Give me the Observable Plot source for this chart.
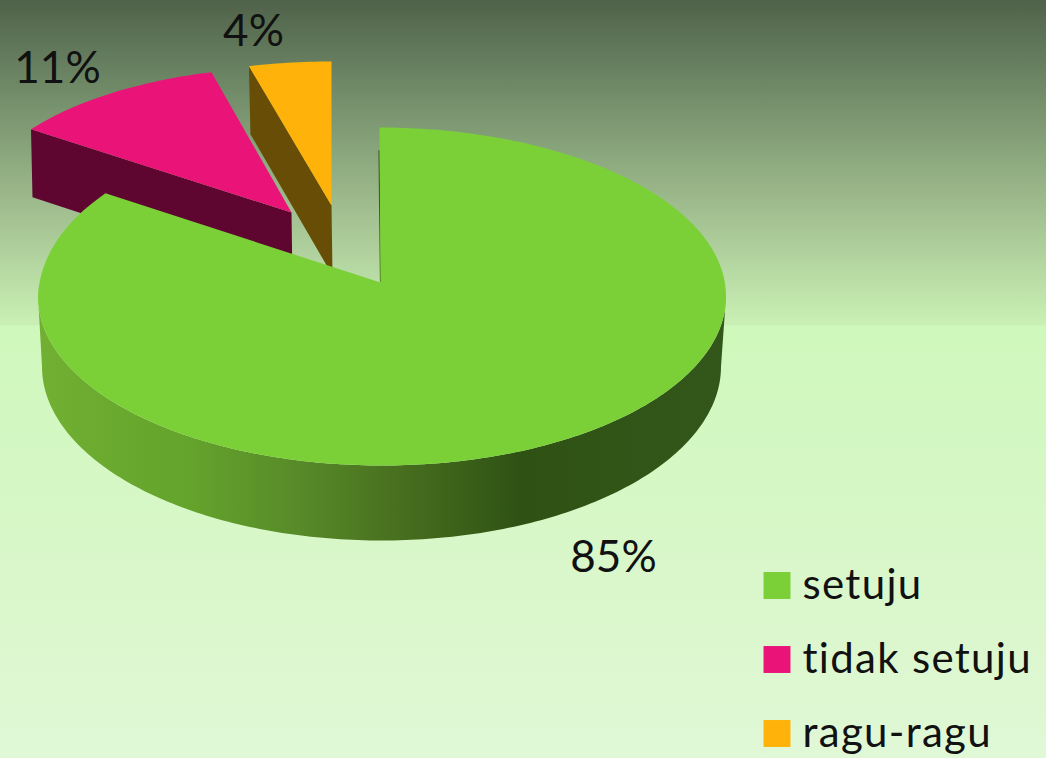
<!DOCTYPE html>
<html>
<head>
<meta charset="utf-8">
<script src="https://cdn.jsdelivr.net/npm/d3@7"></script>
<script src="https://cdn.jsdelivr.net/npm/@observablehq/plot@0.6"></script>
<style>html,body{margin:0;padding:0;background:#dff8d3;overflow:hidden}</style>
</head>
<body>
<div id="chart"></div>
<script>
const categories = ["setuju", "tidak setuju", "ragu-ragu"];
const values = [85, 11, 4];
const valueLabels = ["85%", "11%", "4%"];
const topColors = ["#7bd038", "#ea1479", "#ffb30a"];
const wallColors = ["#2f5214", "#5e0530", "#674d05"];

// Drawing geometry (layout only, not data)
const W = 1046, H = 758, FONT = "Lato, 'Open Sans', sans-serif";
const apex = {x: 380, y: 282};
const depth = 68;
const sliceLayout = [
  {apex, cx: 381.5, cy: 296, rx: 344, ry: 169, lean: true},
  {apex: {x: 291, y: 212}, cx: 291, cy: 217, rx: 322, ry: 150},
  {apex: {x: 331, y: 205}, cx: 331, cy: 211, rx: 332, ry: 150}
];
const bottomEllipse = {cx: 381, cy: 366, rx: 339.5, ry: 174};
const labelLayout = [{x: 613, y: 557}, {x: 57, y: 68}, {x: 253, y: 31}];
const legendLayout = {x: 776.5, textX: 802, y: [585, 659, 733]};

const total = d3.sum(values);
const cum = d3.cumsum(values);
const frac = i => [(i ? cum[i - 1] : 0) / total, cum[i] / total];
const arc = (e, t0, t1) => {
  const n = Math.max(2, Math.ceil((t1 - t0) * 360));
  return d3.range(n + 1).map(k => {
    const a = (t0 + (t1 - t0) * k / n) * 2 * Math.PI;
    const s = Math.sin(a), c = Math.cos(a);
    // Slight perspective lean on the far-left part of the main slice
    const dy = e.lean && s < 0 && c > 0 ? -10 * s * s * c : 0;
    const dx = e.lean && c > 0 ? (s < 0 ? 6 * s * s * c : 0) - 2.5 * c * c * c : 0;
    return {x: e.cx + e.rx * s + dx, y: e.cy - e.ry * c + dy};
  });
};

// Top face of each slice
const facePoints = i => {
  const [t0, t1] = frac(i), L = sliceLayout[i];
  return [L.apex, ...arc(L, t0, t1), L.apex];
};
// Cut wall of an exploded slice (its outer edge runs back to the apex)
const wallPoints = i => {
  const outer = facePoints(i)[1];
  const a = sliceLayout[i].apex;
  return [outer, a, {x: a.x + 1, y: a.y + depth + 2}, {x: outer.x + 1.5, y: outer.y + depth}];
};
// Curved side of the main slice
const sideTop = arc(sliceLayout[0], 0.25, 0.75);
const sideBottom = arc(bottomEllipse, 0.25, 0.75);
const sidePoints = [...sideTop, ...sideBottom.slice().reverse()];
// Thin sliver of the main slice's inner wall
const sliver = [{x: 378.5, y: 150}, {x: 380, y: 281}];

const legendData = categories.map((c, i) => ({c, i, y: legendLayout.y[i]}));
const labelData = valueLabels.map((t, i) => ({t, ...labelLayout[i]}));

const line = (pts, fill) => Plot.line(pts, {x: "x", y: "y", fill, stroke: "none", curve: "linear"});

const chart = Plot.plot({
  width: W, height: H,
  margin: 0,
  x: {domain: [0, W], range: [0, W], axis: null},
  y: {domain: [0, H], range: [0, H], axis: null},
  style: {
    background: "linear-gradient(#4f624a 0px, #748f6b 100px, #9dba8c 200px, #c3e8ae 305px, #cbf0b6 325px, #cff8bc 326px, #dcf7ce 640px, #e0f8d6 758px)",
    display: "block"
  },
  marks: [
    line(wallPoints(2), wallColors[2]),
    line(facePoints(2), topColors[2]),
    line(wallPoints(1), wallColors[1]),
    line(facePoints(1), topColors[1]),
    line(sidePoints, "url(#sideGrad)"),
    Plot.line(sliver, {x: "x", y: "y", stroke: "#3a5a20", strokeWidth: 1.2}),
    line(facePoints(0), topColors[0]),
    Plot.text(labelData, {x: "x", y: "y", text: "t", fontFamily: FONT, fontSize: 44, fill: "#111", textAnchor: "middle"}),
    Plot.dot(legendData, {x: () => legendLayout.x, y: "y", symbol: "square", r: 15.2, fill: d => topColors[d.i], stroke: "none"}),
    Plot.text(legendData, {x: () => legendLayout.textX, y: d => d.y, text: "c", textAnchor: "start", fontFamily: FONT, fontSize: 42, fill: "#111", className: "legend-text"})
  ],
  color: {type: "identity"}
});

d3.select(chart).selectAll(".legend-text text").style("letter-spacing", "1.3px");

// Horizontal shading of the curved side
const defs = d3.select(chart).insert("defs", ":first-child");
const grad = defs.append("linearGradient").attr("id", "sideGrad").attr("x1", 0).attr("x2", 1).attr("y1", 0).attr("y2", 0);
[[0, "#71b032"], [0.22, "#64a32c"], [0.38, "#578a28"], [0.52, "#48701f"], [0.70, "#2f5214"], [1, "#33561a"]]
  .forEach(([o, c]) => grad.append("stop").attr("offset", o).attr("stop-color", c));

document.getElementById("chart").appendChild(chart);
</script>
</body>
</html>
